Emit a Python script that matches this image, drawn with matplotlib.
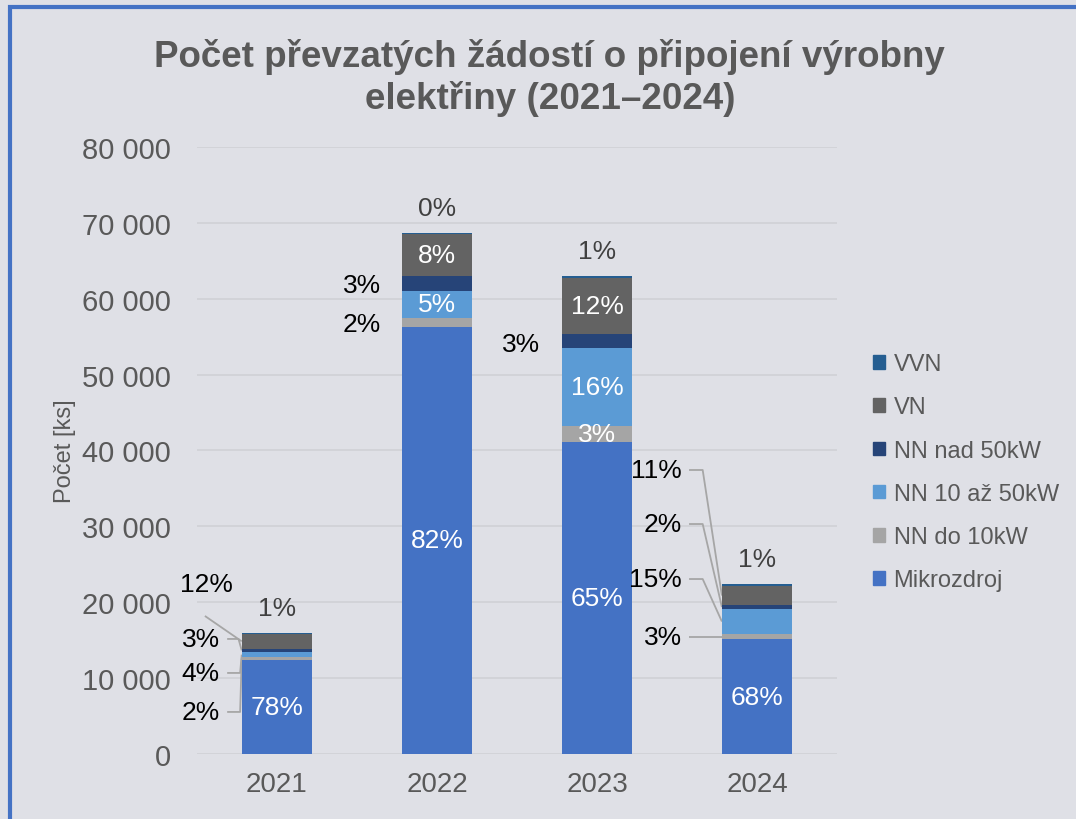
import numpy as np
import matplotlib.pyplot as plt
from matplotlib.patches import Rectangle, Patch

plt.rcParams["font.family"] = ["Liberation Sans", "DejaVu Sans"]

years = ["2021", "2022", "2023", "2024"]
series = ["Mikrozdroj", "NN do 10kW", "NN 10 až 50kW", "NN nad 50kW", "VN", "VVN"]
colors = ["#4472C4", "#A5A5A5", "#5B9BD5", "#264478", "#636363", "#255E91"]

mikrozdroj = [12450, 56300, 41100, 15150]
nn_do_10 = [320, 1200, 2100, 660]
nn_10_50 = [640, 3500, 10280, 3290]
nn_nad_50 = [480, 2000, 1840, 530]
vn = [1910, 5500, 7380, 2500]
vvn = [160, 150, 300, 220]

pct_labels = [
    ["78%", "82%", "65%", "68%"],
    ["2%", "2%", "3%", "3%"],
    ["4%", "5%", "16%", "15%"],
    ["3%", "3%", "3%", "2%"],
    ["12%", "8%", "12%", "11%"],
    ["1%", "0%", "1%", "1%"],
]

values = np.array([mikrozdroj, nn_do_10, nn_10_50, nn_nad_50, vn, vvn])

# labels drawn inside the bar in white
inside = {(0, 0), (0, 1), (0, 2), (0, 3), (2, 1), (4, 1), (4, 2), (2, 2), (1, 2)}
# outside labels: (series, year, label y, text right x, elbow offset, leader start or None)
outside = [
    (4, 0, 22400, -0.275, 0.0, (-0.45, 18190)),
    (3, 0, 15160, -0.356, 0.02, None),
    (2, 0, 10680, -0.356, 0.01, None),
    (1, 0, 5540, -0.356, 0.01, None),
    (3, 1, 61810, 0.65, None, None),
    (1, 1, 56670, 0.65, None, None),
    (3, 2, 54040, 1.644, None, None),
    (4, 3, 37430, 2.53, 0.12, None),
    (3, 3, 30310, 2.53, 0.12, None),
    (2, 3, 23060, 2.53, 0.12, None),
    (1, 3, 15420, 2.53, 0.0, None),
]

bg = "#DFE0E6"
txt = "#595959"
width = 0.44

fig = plt.figure(figsize=(10.76, 8.2), dpi=100, facecolor=bg)
ax = fig.add_axes([0.183, 0.0793, 0.595, 0.7402])
ax.set_facecolor(bg)

x = np.arange(len(years))
bottoms = np.zeros(len(years))
for i, name in enumerate(series):
    ax.bar(x, values[i], width, bottom=bottoms, color=colors[i], label=name, zorder=3)
    for j in range(len(years)):
        mid = bottoms[j] + values[i][j] / 2
        if (i, j) in inside:
            ax.text(x[j], mid, pct_labels[i][j], ha="center", va="center",
                    color="white", fontsize=19, zorder=4)
    bottoms += values[i]

# VVN shares above the bars
for j in range(len(years)):
    ax.annotate(pct_labels[5][j], (x[j], bottoms[j]), xytext=(0, 18),
                textcoords="offset points", ha="center", va="center",
                color="#404040", fontsize=19)

cum = np.cumsum(values, axis=0)
for s, j, ly, xr, elb, start in outside:
    ax.text(xr, ly, pct_labels[s][j], ha="right", va="center", color="black",
            fontsize=19, zorder=4)
    if elb is None:
        continue
    seg_mid = cum[s][j] - values[s][j] / 2
    bar_left = x[j] - width / 2
    if start is not None:
        xs, ys = [start[0], bar_left], [start[1], seg_mid]
    else:
        xs = [xr + 0.045, bar_left - elb, bar_left]
        ys = [ly, ly, seg_mid]
    ax.plot(xs, ys, color="#A6A6A6", lw=1.3, zorder=2, solid_capstyle="butt")

ax.set_xlim(-0.5, 3.5)
ax.set_ylim(0, 80000)
ax.set_yticks(np.arange(0, 80001, 10000))
ax.set_yticklabels([f"{v:,}".replace(",", " ") for v in range(0, 80001, 10000)])
ax.set_xticks(x)
ax.set_xticklabels(years)
ax.tick_params(axis="both", length=0, labelsize=20, colors=txt)
ax.tick_params(axis="y", labelsize=21, pad=19)
ax.tick_params(axis="x", pad=12)
ax.grid(axis="y", color="#D0D1D6", lw=1.2, zorder=0)
for sp in ax.spines.values():
    sp.set_visible(False)
ax.set_ylabel("Počet [ks]", fontsize=17, color=txt, labelpad=4)

handles = [Patch(color=colors[i], label=series[i]) for i in range(len(series))][::-1]
fig.legend(handles=handles, loc="upper left", bbox_to_anchor=(0.792, 0.594),
           frameon=False, fontsize=17, labelcolor=txt, handlelength=0.5,
           handleheight=0.5, handletextpad=0.35, labelspacing=0.9)

fig.text(0.511, 0.905, "Počet převzatých žádostí o připojení výrobny\nelektřiny (2021–2024)",
         ha="center", va="center", fontsize=26.5, fontweight="bold", color=txt,
         linespacing=1.2)

fig.patches.append(Rectangle((10 / 1076, -0.1), 1.2, 1.1 - 8 / 820, transform=fig.transFigure,
                             fill=False, edgecolor="#4472C4", lw=3))

fig.savefig("out.png", dpi=100, facecolor=bg)
